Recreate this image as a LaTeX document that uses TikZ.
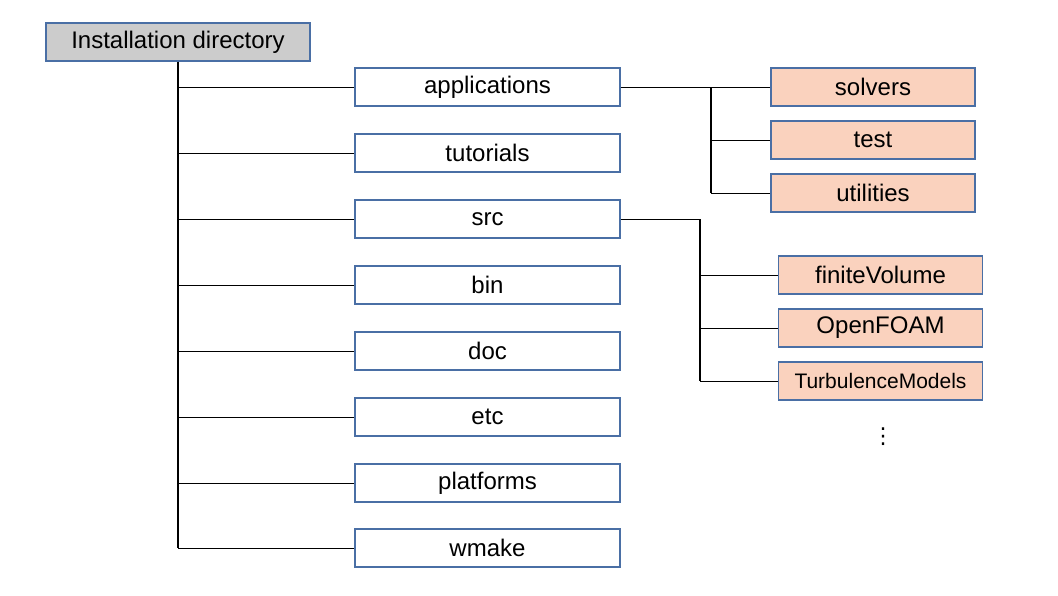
\documentclass[tikz,border=0pt]{standalone}
\usepackage{fontspec}
\setmainfont{Liberation Sans}
\newfontfamily\symfont{DejaVu Sans}
\definecolor{boxblue}{HTML}{4A6FA5}
\definecolor{rootgray}{HTML}{CCCCCC}
\definecolor{salmon}{HTML}{FAD2BE}
\begin{document}
\begin{tikzpicture}[x=1pt,y=-1pt,
  dirbox/.style={draw=boxblue,line width=1.2pt,fill=white,minimum width=265pt,minimum height=38pt,inner sep=0pt,font=\fontsize{24}{28}\selectfont},
  subbox/.style={draw=boxblue,line width=1.2pt,fill=salmon,minimum width=204pt,minimum height=38pt,inner sep=0pt,font=\fontsize{24}{28}\selectfont},
  rootbox/.style={draw=boxblue,line width=1.2pt,fill=rootgray,minimum width=264pt,minimum height=38pt,inner sep=0pt,font=\fontsize{24}{28}\selectfont},
  trunk/.style={line width=1.6pt},
  branch/.style={line width=0.9pt}]
\useasboundingbox (0,0) rectangle (1058,595);
\node[rootbox] (root) at (178,42) {Installation directory};
\node[dirbox] (app) at (487.5,87) {applications};
\node[dirbox] (tut) at (487.5,153) {tutorials};
\node[dirbox] (src) at (487.5,219) {src};
\node[dirbox] (bin) at (487.5,285) {bin};
\node[dirbox] (doc) at (487.5,351) {doc};
\node[dirbox] (etc) at (487.5,417) {etc};
\node[dirbox] (plat) at (487.5,483) {platforms};
\node[dirbox] (wmake) at (487.5,548) {wmake};
\node[subbox] (solvers) at (873,87) {solvers};
\node[subbox] (test) at (873,140) {test};
\node[subbox] (util) at (873,193) {utilities};
\node[subbox] (fv) at (880.5,275) {finiteVolume};
\node[subbox] (of) at (880.5,328) {OpenFOAM};
\node[subbox,font=\fontsize{21}{25}\selectfont] (tm) at (880.5,381) {TurbulenceModels};
\node[inner sep=0pt,font=\symfont\fontsize{22}{26}\selectfont] (dots) at (883,437) {⋮};
% trunk
\draw[trunk] (root.south) -- (root.south |- wmake.west);
\foreach \n in {app,tut,src,bin,doc,etc,plat,wmake}
  \draw[branch] (root.south |- \n.west) -- (\n.west);
% applications group
\coordinate (aj) at (711,87);
\draw[branch] (app.east) -- (solvers.west);
\draw[trunk] (aj) -- (aj |- util.west);
\draw[branch] (aj |- test.west) -- (test.west);
\draw[branch] (aj |- util.west) -- (util.west);
% src group
\coordinate (sj) at (700,219);
\draw[branch] (src.east) -- (sj);
\draw[trunk] (sj) -- (sj |- tm.west);
\draw[branch] (sj |- fv.west) -- (fv.west);
\draw[branch] (sj |- of.west) -- (of.west);
\draw[branch] (sj |- tm.west) -- (tm.west);
\end{tikzpicture}
\end{document}
